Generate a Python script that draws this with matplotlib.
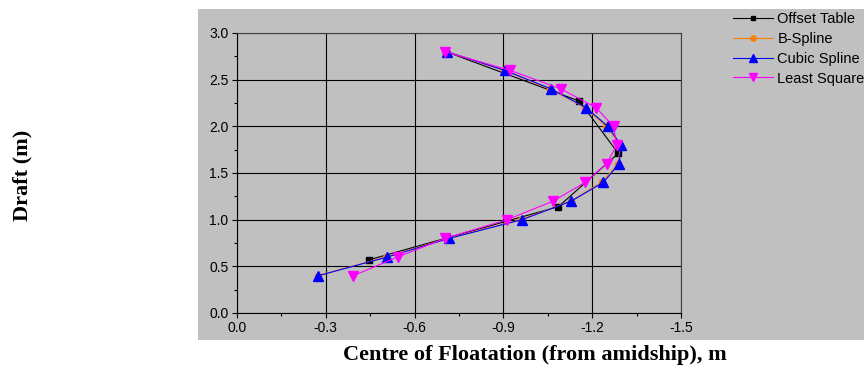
import matplotlib.pyplot as plt
from matplotlib.patches import Rectangle
from matplotlib.ticker import MultipleLocator

# Draft values (m) for the fitted curves
draft_fit = [0.4, 0.6, 0.8, 1.0, 1.2, 1.4, 1.6, 1.8, 2.0, 2.2, 2.4, 2.6, 2.8]

# Centre of floatation from amidship (m)
bspline_lcf = [-0.272, -0.503, -0.713, -0.958, -1.128, -1.232, -1.288, -1.295, -1.247, -1.176, -1.058, -0.902, -0.707]
cubic_lcf = [-0.275, -0.508, -0.717, -0.963, -1.130, -1.238, -1.291, -1.297, -1.253, -1.179, -1.062, -0.904, -0.709]
lsq_lcf = [-0.393, -0.543, -0.703, -0.913, -1.069, -1.176, -1.249, -1.283, -1.272, -1.213, -1.095, -0.922, -0.703]

# Offset table points
draft_offset = [0.57, 1.14, 1.71, 2.27, 2.8]
offset_lcf = [-0.446, -1.086, -1.288, -1.157, -0.706]

plt.rcParams['font.family'] = ['Liberation Sans', 'DejaVu Sans']

fig = plt.figure(figsize=(8.64, 3.69), dpi=100)
fig.patch.set_facecolor('white')

# grey panel behind the plot and legend
fig.patches.append(Rectangle((198 / 864, 29 / 369), 1 - 198 / 864, 331 / 369,
                             transform=fig.transFigure, facecolor='#c0c0c0',
                             edgecolor='none', zorder=-10))

ax = fig.add_axes([237 / 864, 56 / 369, 444 / 864, 280 / 369])
ax.set_zorder(1)
ax.set_facecolor('#c0c0c0')

ax.plot(offset_lcf, draft_offset, color='black', lw=0.8, marker='s', ms=4, label='Offset Table', zorder=3)
ax.plot(bspline_lcf, draft_fit, color='#ff8000', lw=0.8, marker='o', ms=4.5, label='B-Spline', zorder=4)
ax.plot(cubic_lcf, draft_fit, color='blue', lw=0.8, marker='^', ms=6.5, label='Cubic Spline', zorder=5)
ax.plot(lsq_lcf, draft_fit, color='magenta', lw=0.8, marker='v', ms=6.5, label='Least Square', zorder=6)

ax.set_xlim(0, -1.5)
ax.set_ylim(0, 3.0)
ax.xaxis.set_major_locator(MultipleLocator(0.3))
ax.xaxis.set_minor_locator(MultipleLocator(0.15))
ax.yaxis.set_major_locator(MultipleLocator(0.5))
ax.yaxis.set_minor_locator(MultipleLocator(0.25))
ax.xaxis.set_major_formatter(plt.FuncFormatter(lambda v, p: '%.1f' % v if abs(v) > 1e-9 else '0.0'))
ax.yaxis.set_major_formatter(plt.FuncFormatter(lambda v, p: '%.1f' % v))

ax.grid(True, which='major', color='black', lw=0.8)
ax.set_axisbelow(True)
ax.tick_params(which='major', direction='out', length=3.6, width=0.8, labelsize=10, pad=2.5)
ax.tick_params(which='minor', direction='out', length=2.2, width=0.8)
for s in ax.spines.values():
    s.set_color('black')
    s.set_linewidth(0.8)
for s in ('top', 'right'):
    ax.spines[s].set_color('#404040')

fig.text(22 / 864, 1 - 175 / 369, 'Draft (m)', rotation=90, ha='center', va='center',
         family='Liberation Serif', weight='bold', fontsize=16)
fig.text(535 / 864, 1 - 355 / 369, 'Centre of Floatation (from amidship), m', ha='center', va='center',
         family='Liberation Serif', weight='bold', fontsize=16)

fig.legend(loc='upper left', bbox_to_anchor=(733 / 864, 1 - 12 / 369), frameon=False,
           fontsize=10.5, handlelength=2.75, handletextpad=0.3, labelspacing=0.4,
           borderpad=0, borderaxespad=0, markerscale=0.85)

fig.savefig('out.png', dpi=100)
